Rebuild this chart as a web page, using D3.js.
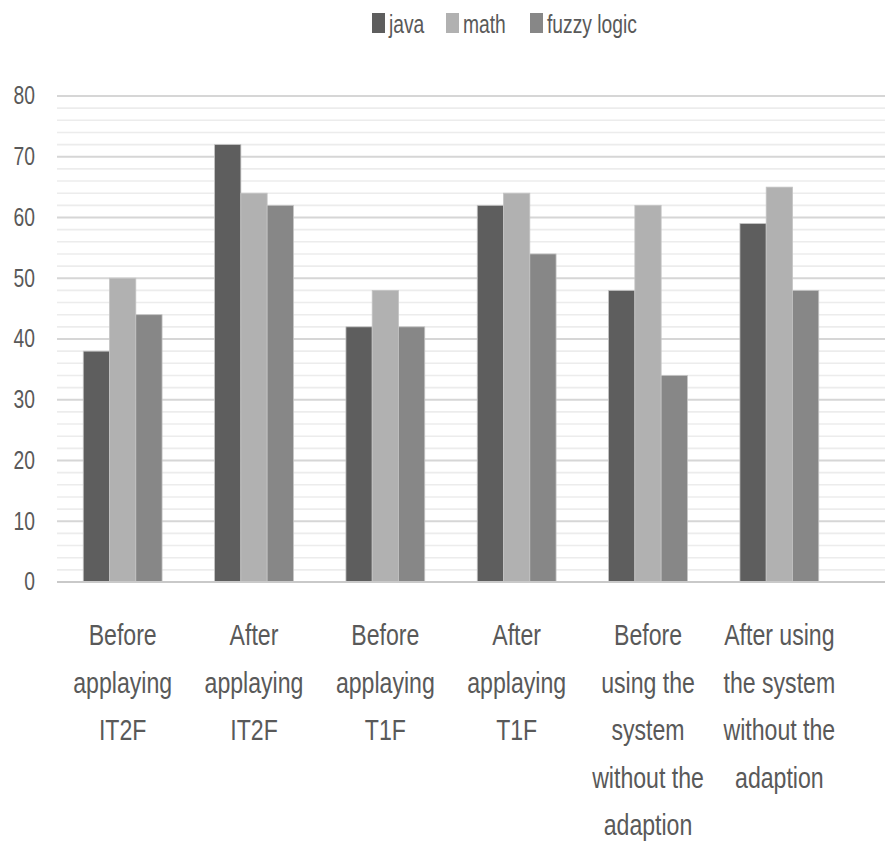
<!DOCTYPE html>
<html><head><meta charset="utf-8">
<script src="https://cdn.jsdelivr.net/npm/d3@7/dist/d3.min.js"></script>
<style>html,body{margin:0;padding:0;background:#fff;}svg{display:block;}</style>
</head><body>
<script>
const categories = [
  ["Before","applaying","IT2F"],
  ["After","applaying","IT2F"],
  ["Before","applaying","T1F"],
  ["After","applaying","T1F"],
  ["Before","using the","system","without the","adaption"],
  ["After using","the system","without the","adaption"]
];
const seriesNames = ["java","math","fuzzy logic"];
const java = [38,72,42,62,48,59];
const math = [50,64,48,64,62,65];
const fuzzy = [44,62,42,54,34,48];
const yTicks = [0,10,20,30,40,50,60,70,80];
const colors = ["#5e5e5e","#b1b1b1","#878787"];

(function(){
const W=885,H=848;
const mLeft=57,mRight=845,mTop=96,mBottom=582;
const SX=0.77;
const FONT="'Liberation Sans', Arial, sans-serif";
const svg=d3.select("body").append("svg").attr("width",W).attr("height",H);

const y=d3.scaleLinear().domain([0,80]).range([mBottom,mTop]);
const x0=d3.scaleBand().domain(d3.range(categories.length)).range([mLeft,mRight]).paddingInner(0.4).paddingOuter(0.2);
const x1=d3.scaleBand().domain(d3.range(3)).range([0,x0.bandwidth()]);

// gridlines
const minor=d3.range(0,81,2).filter(v=>v%10!==0);
svg.append("g").selectAll("line").data(minor).join("line")
  .attr("x1",mLeft).attr("x2",W).attr("y1",d=>y(d)).attr("y2",d=>y(d))
  .attr("stroke","#ececec").attr("stroke-width",1.6);
svg.append("g").selectAll("line").data(yTicks.filter(v=>v>0)).join("line")
  .attr("x1",mLeft).attr("x2",W).attr("y1",d=>y(d)).attr("y2",d=>y(d))
  .attr("stroke","#d6d6d6").attr("stroke-width",2);

// bars
const series=[java,math,fuzzy];
series.forEach((vals,si)=>{
  svg.append("g").selectAll("rect").data(vals).join("rect")
    .attr("x",(d,i)=>x0(i)+x1(si))
    .attr("y",d=>y(d))
    .attr("width",x1.bandwidth())
    .attr("height",d=>y(0)-y(d))
    .attr("fill",colors[si])
    .attr("stroke","#c4c4c4").attr("stroke-width",0.8);
});

// axis line
svg.append("line").attr("x1",mLeft).attr("x2",W).attr("y1",y(0)).attr("y2",y(0))
  .attr("stroke","#c9c9c9").attr("stroke-width",2);

function txt(g,s,xx,yy,size,anchor){
  return g.append("text").attr("transform",`translate(${xx},${yy}) scale(${SX},1)`)
    .attr("text-anchor",anchor).attr("font-family",FONT).attr("font-size",size)
    .attr("fill","#595959").text(s);
}
// y tick labels
const yl=svg.append("g");
yTicks.forEach(t=>{ txt(yl,String(t),35,y(t),25,"end").attr("dominant-baseline","central"); });

// category labels
const cl=svg.append("g");
categories.forEach((lines,i)=>{
  const cx=x0(i)+x0.bandwidth()/2;
  lines.forEach((ln,j)=>{ txt(cl,ln,cx,645+j*47.5,30,"middle"); });
});

// legend
const lg=svg.append("g");
const legX=[372,446,530];
seriesNames.forEach((n,i)=>{
  lg.append("rect").attr("x",legX[i]).attr("y",13).attr("width",13).attr("height",20).attr("fill",colors[i]);
  txt(lg,n,legX[i]+17,33,25,"start");
});
})();
</script>
</body></html>
